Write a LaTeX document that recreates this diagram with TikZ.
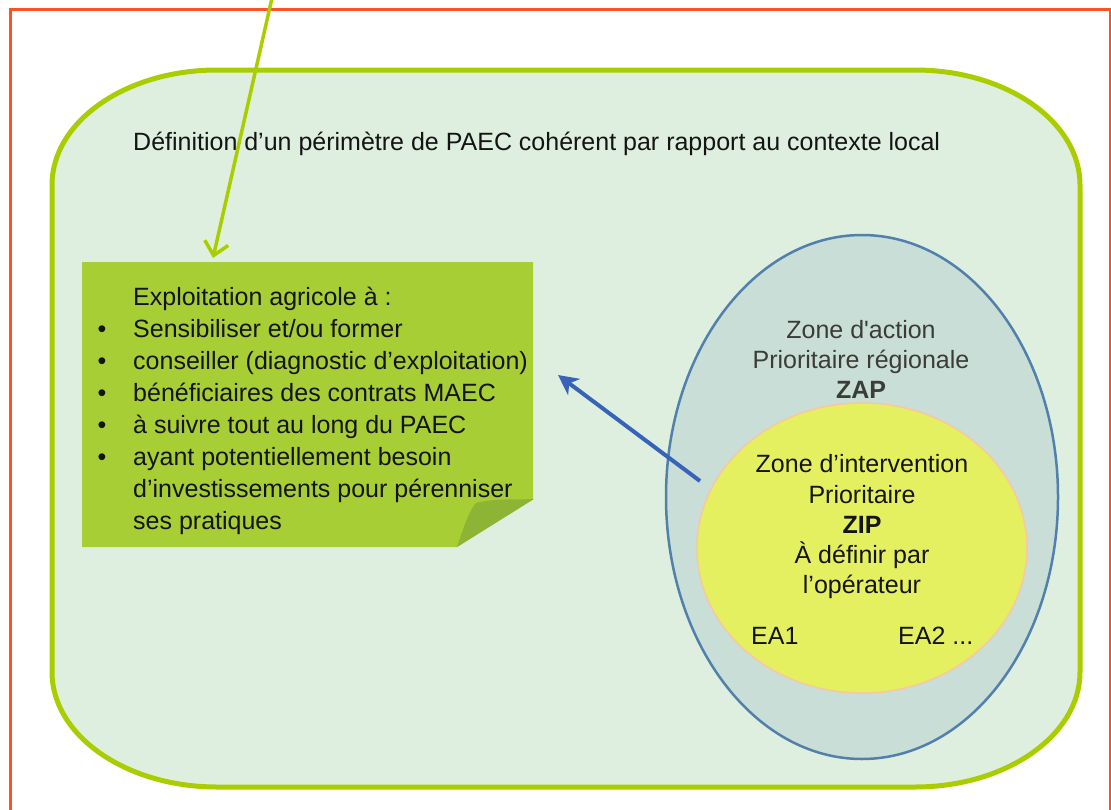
\documentclass[tikz,border=0pt]{standalone}
\usepackage{fontspec}
\setmainfont{Liberation Sans}
\newfontfamily\rawsans{Liberation Sans}
\usetikzlibrary{arrows.meta,shapes.geometric}
\definecolor{redframe}{RGB}{255,82,36}
\definecolor{limeline}{RGB}{170,205,0}
\definecolor{panelfill}{RGB}{223,239,223}
\definecolor{notefill}{RGB}{167,206,52}
\definecolor{notefold}{RGB}{141,180,52}
\definecolor{zapfill}{RGB}{200,222,214}
\definecolor{zapline}{RGB}{82,128,172}
\definecolor{zipfill}{RGB}{228,240,96}
\definecolor{zipline}{RGB}{248,200,160}
\definecolor{arrowblue}{RGB}{55,100,185}
\definecolor{zaptext}{RGB}{60,60,55}
\definecolor{inktext}{RGB}{20,20,20}
\begin{document}
\begin{tikzpicture}[x=1pt,y=-1pt,
  txt/.style={font=\fontsize{25}{30}\selectfont, inner sep=0pt, text=inktext},
  ctxt/.style={txt, anchor=base},
  ltxt/.style={txt, anchor=base west},
  zapt/.style={ctxt, text=zaptext},
  bul/.style={txt, anchor=base}]
\useasboundingbox (0,0) rectangle (1111,809);
\clip (0,0) rectangle (1111,809);
% red frame
\draw[redframe, line width=3pt] (10,9) rectangle (1110.5,840);
% panel
\draw[limeline, line width=5pt, fill=panelfill]
  (217,70) -- (915,70) .. controls (1006.1,70) and (1080,121.5) .. (1080,185)
  -- (1080,672) .. controls (1080,735.5) and (1006.1,787) .. (915,787)
  -- (217,787) .. controls (125.9,787) and (52,735.5) .. (52,672)
  -- (52,185) .. controls (52,121.5) and (125.9,70) .. (217,70) -- cycle;
\node[ltxt] (title) at (133,150) {Définition d’un périmètre de PAEC cohérent par rapport au contexte local};
% note
\fill[notefill] (82,262) -- (533,262) -- (533,499) -- (457,547) -- (82,547) -- cycle;
\fill[notefold] (457,547) .. controls (463,530) and (468,512) .. (476,503)
  .. controls (495,498) and (515,500) .. (534,499) -- cycle;
\node[ltxt] (n0) at (133,305) {Exploitation agricole à :};
\node[bul] (b1) at (102,337) {•};
\node[ltxt] (n1) at (133,337) {Sensibiliser et/ou former};
\node[bul] (b2) at (102,369) {•};
\node[ltxt] (n2) at (133,369) {conseiller (diagnostic d’exploitation)};
\node[bul] (b3) at (102,401) {•};
\node[ltxt] (n3) at (133,401) {bénéficiaires des contrats MAEC};
\node[bul] (b4) at (102,433) {•};
\node[ltxt] (n4) at (133,433) {à suivre tout au long du PAEC};
\node[bul] (b5) at (102,465) {•};
\node[ltxt] (n5) at (133,465) {ayant potentiellement besoin};
\node[ltxt] (n6) at (133,497) {d’investissements pour pérenniser};
\node[ltxt] (n7) at (133,529) {ses pratiques};
% ellipses
\node[ellipse, draw=zapline, line width=2.5pt, fill=zapfill, minimum width=392pt, minimum height=524pt, inner sep=0pt] (zap) at (862,497) {};
\node[ellipse, draw=zipline, line width=1.5pt, fill=zipfill, minimum width=330pt, minimum height=290pt, inner sep=0pt] (zip) at (862,548) {};
\node[zapt] (z1) at (861,338) {{\rawsans Zone d'action}};
\node[zapt] (z2) at (861,368) {Prioritaire régionale};
\node[zapt, font=\fontsize{25}{30}\selectfont\bfseries] (z3) at (861,398) {ZAP};
\node[ctxt] (i1) at (862,472) {Zone d’intervention};
\node[ctxt] (i2) at (862,503) {Prioritaire};
\node[ctxt, font=\fontsize{25}{30}\selectfont\bfseries] (i3) at (862,533) {ZIP};
\node[ctxt] (i4) at (862,563) {À définir par};
\node[ctxt] (i5) at (862,593) {l’opérateur};
\node[ltxt] (ea1) at (751,644) {EA1};
\node[ltxt] (ea2) at (898,644) {EA2 ...};
% arrows
\coordinate (gstart) at (272,-2);
\coordinate (gend) at (213,258);
\draw[limeline, line width=3.5pt, -{Straight Barb[length=13pt,width=24pt]}] (gstart) -- (gend);
\coordinate (bstart) at (700,481);
\coordinate (bend) at (558,375);
\draw[arrowblue, line width=4pt, -{Stealth[length=20pt,width=20pt,inset=6pt]}] (bstart) -- (bend);
\end{tikzpicture}
\end{document}
